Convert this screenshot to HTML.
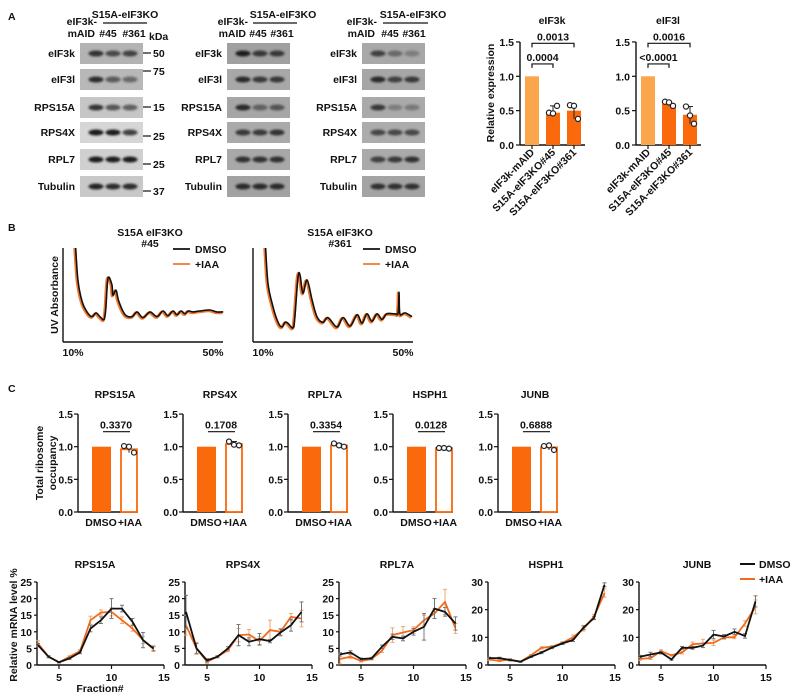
<!DOCTYPE html>
<html><head><meta charset="utf-8">
<style>
html,body{margin:0;padding:0;background:#fff;}
svg{display:block;}
text{font-family:"Liberation Sans",Arial,sans-serif;font-weight:bold;font-size:10.5px;fill:#111;}
</style></head>
<body>
<svg id="fig" width="793" height="697" viewBox="0 0 793 697" xmlns="http://www.w3.org/2000/svg">
<defs>
<filter id="blur" x="-50%" y="-100%" width="200%" height="300%"><feGaussianBlur stdDeviation="1.1"/></filter>
<clipPath id="clipB1"><rect x="60" y="248" width="170" height="96"/></clipPath>
<clipPath id="clipB2"><rect x="250" y="248" width="170" height="96"/></clipPath>
</defs>
</svg>
<script>
// ---------- Panel A blots ----------
const blotRows=['eIF3k','eIF3l','RPS15A','RPS4X','RPL7','Tubulin'];
const blotInt=[
 [[0.85,0.7,0.75],[0.9,0.6,0.5],[0.85,0.65,0.6],[1,1,0.8],[1,1,1],[0.95,0.9,0.9]],
 [[1,0.8,0.8],[0.9,0.8,0.8],[0.9,0.5,0.6],[0.8,0.8,0.85],[0.85,0.85,0.85],[0.9,0.9,0.9]],
 [[0.75,0.45,0.3],[0.9,0.75,0.8],[0.8,0.3,0.35],[0.7,0.7,0.7],[0.75,0.8,0.85],[0.85,0.85,0.85]]
];
const markers=['50','75','15','25','25','37'];
// ---------- Panel A bars ----------
const aCats=['eIF3k-mAID','S15A-eIF3KO#45','S15A-eIF3KO#361'];
const aKvals=[1,0.47,0.50];
const aKpts=[[],[0.47,0.46,0.57],[0.58,0.57,0.38]];
const aKp=['0.0004','0.0013'];
const aLvals=[1,0.60,0.44];
const aLpts=[[],[0.63,0.62,0.57],[0.56,0.43,0.31]];
const aLp=['<0.0001','0.0016'];
const aTicks=[0,0.5,1.0,1.5];
// ---------- Panel B profiles ----------
const b1x=[10.6,11.4,12.6,14,15.4,16.6,17.7,18.9,19.4,20,21.1,21.4,22.3,23.1,24.9,26.9,28.3,30,32,34,35.7,37.1,38.6,39.7,40.9,42,42.9,44.3,46.3,49.1,51.1,52.9];
const b1y=[110,66,43,32,27,31,27,24,37,68,61,50,55,43,29,27,32,26,32,27,33,28,33,29,33,30,33,32,33,34,32,32];
const b2x=[10.6,11.4,12.9,14.3,15.4,16.3,17.1,18.6,19.1,20,20.6,21.4,22.6,24,25.4,27.1,28.6,31.1,32.9,34.9,36.9,38.3,39.7,41.1,42.6,44,45.4,47.7,48.6,48.9,49.1,50.6,52.6];
const b2y=[110,63,37,21,16,21,20,15,27,69,71,52,66,45,27,21,26,16,26,17,29,20,30,22,30,24,30,30,31,53,30,31,27];
// ---------- Panel C bars ----------
const cGenes=['RPS15A','RPS4X','RPL7A','HSPH1','JUNB'];
const cIAA=[0.96,1.04,1.02,0.98,0.99];
const cPts=[[1.01,1.00,0.91],[1.08,1.03,1.02],[1.05,1.02,1.00],[0.98,0.98,0.97],[1.01,1.02,0.95]];
const cP=['0.3370','0.1708','0.3354','0.0128','0.6888'];
// ---------- Bottom line charts ----------
const fractions=[3,4,5,6,7,8,9,10,11,12,13,14];
const lineMax=[25,25,25,30,30];
const dmso=[
 [6,2.5,0.8,2,3.8,11,13.5,17,17,13,7.5,5],
 [16,5,1.4,2.5,5,9,7,7.8,7.2,9.8,12,16],
 [3.2,3.8,1.8,2,5.5,8.5,8,10,11.5,17,16,12.5],
 [2.5,2.5,1.8,1.2,3,4.5,6.3,7.8,9,13.5,17,29],
 [3,3.8,4.5,2,6.2,6.2,7,11,10.3,12,10.5,23]];
const dmsoErr=[
 [0.5,0.3,0.2,0.3,0.4,1,1,3,1,1,2.3,0.7],
 [5,1.5,0.5,0.3,0.5,3.2,1.2,1.7,0.5,1,1.8,3],
 [0.5,0.5,0.3,0.3,0.5,0.8,0.7,1,4,3,1.3,2],
 [0.3,0.3,0.3,0.2,0.3,0.4,0.4,0.4,0.5,0.7,0.6,0.7],
 [0.5,0.8,0.5,0.3,0.5,0.5,0.7,1.5,0.7,1,0.8,2]];
const iaa=[
 [6.5,2.5,0.8,2.5,4.2,13.5,15.8,16,13.5,11,7.5,4.8],
 [12,5,1,2.5,4.5,9,9.2,7.2,10.5,10,14.5,14],
 [1.8,2.5,1.2,1.8,4.3,9,9.8,10.5,13.5,15.5,19,11],
 [2,1.5,2,1.2,3.5,6.2,6.6,8,10,13,17.5,26],
 [2.2,2.5,5,3.5,4.5,7.5,7.8,8,10,10,15,21]];
const iaaErr=[
 [0.8,0.3,0.2,0.3,0.4,1.2,0.8,1.2,1,0.8,1,0.7],
 [3,1.8,0.5,0.3,0.5,2,1.5,1.3,3,1,1,2.5],
 [1.5,0.5,0.3,0.3,0.5,2.2,1.8,1,1.5,1.5,3.8,1.5],
 [0.3,0.3,0.3,0.2,0.3,0.4,0.4,0.4,0.8,0.7,0.8,1.5],
 [0.5,0.5,0.5,0.3,0.5,0.8,1.5,1,0.7,0.5,1,2.5]];

const NS='http://www.w3.org/2000/svg';
const svg=document.getElementById('fig');
function mk(tag,at,par){const e=document.createElementNS(NS,tag);for(const k in at)e.setAttribute(k,at[k]);(par||svg).appendChild(e);return e;}
function tx(x,y,s,at,par){const e=mk('text',Object.assign({x:x,y:y},at||{}),par);e.textContent=s;return e;}
function ln(x1,y1,x2,y2,c,w,par){return mk('line',{x1:x1,y1:y1,x2:x2,y2:y2,stroke:c||'#111','stroke-width':w||1.2},par);}
function smooth(P){let d='M'+P[0][0].toFixed(1)+','+P[0][1].toFixed(1);
 for(let i=0;i<P.length-1;i++){const p0=P[i-1]||P[i],p1=P[i],p2=P[i+1],p3=P[i+2]||p2;
  const c1=[p1[0]+(p2[0]-p0[0])/6,p1[1]+(p2[1]-p0[1])/6],c2=[p2[0]-(p3[0]-p1[0])/6,p2[1]-(p3[1]-p1[1])/6];
  d+='C'+c1[0].toFixed(1)+','+c1[1].toFixed(1)+' '+c2[0].toFixed(1)+','+c2[1].toFixed(1)+' '+p2[0].toFixed(1)+','+p2[1].toFixed(1);}
 return d;}

// panel letters
[['A',8,20],['B',8,231],['C',8,392]].forEach(p=>{
 const t=tx(p[1],p[2],p[0],{'font-size':'16px'});
 
 
});

// ----- blots -----
const blotX=[80,227,362], rowY=[43,69,97,122,149,176], lanes=[16,33,50];
const blotBg=[['#b3b3b3','#b8b8b8','#c6c6c6','#d6d6d6','#d0d0d0','#c8c8c8'],
 ['#a0a0a0','#a8a8a8','#a6a6a6','#aaaaaa','#a8a8a8','#a2a2a2'],
 ['#a8a8a8','#a6a6a6','#aaaaaa','#acacac','#aaaaaa','#a4a4a4']];
const hdr=[{e:97,s:125,u:[103,147],l45:108,l361:134},{e:248,s:283,u:[253,297],l45:258,l361:282},{e:377,s:413,u:[383,428],l45:390,l361:414}];
blotX.forEach((bx,b)=>{
 const g=mk('g',{});
 
 
 const h=hdr[b];
 tx(h.e,25,'eIF3k-',{'text-anchor':'end'},g);
 tx(h.e-2,37,'mAID',{'text-anchor':'end'},g);
 tx(h.s,18,'S15A-eIF3KO',{'text-anchor':'middle'},g);
 ln(h.u[0],23,h.u[1],23,'#111',1.2,g);
 tx(h.l45,37,'#45',{'text-anchor':'middle'},g);
 tx(h.l361,37,'#361',{'text-anchor':'middle'},g);
 blotRows.forEach((r,i)=>{
  const y=rowY[i];
  mk('rect',{x:bx,y:y,width:63,height:21,fill:blotBg[b][i]},g);
  lanes.forEach((lx,j)=>{
   mk('ellipse',{cx:bx+lx,cy:y+10.5,rx:7.5,ry:3,fill:'#1a1a1a',opacity:blotInt[b][i][j],filter:'url(#blur)'},g);
  });
  const lab=tx(bx-5,y+14,r,{'text-anchor':'end',fill:(i<2?'#e8894a':'#111')},g);
  
  
 });
});
tx(149,40,'kDa');
const mkY=[53,71,107,136,164,191];
markers.forEach((m,i)=>{ln(143,mkY[i],151,mkY[i]);tx(153,mkY[i]+4,m);});

// ----- A bar charts -----
function barA(ax,title,vals,pts,pv,nm){
 const g=mk('g',{});
 
 
 const y=v=>145-v*68.7;
 tx(ax+32,24,title,{'text-anchor':'middle'},g);
 ln(ax,y(1.5),ax,145,'#111',1.4,g); ln(ax,145,ax+65,145,'#111',1.4,g);
 aTicks.forEach(t=>{ln(ax-4,y(t),ax,y(t),'#111',1.2,g);tx(ax-6,y(t)+4,t.toFixed(1),{'text-anchor':'end','font-size':'11px'},g);});
 const cols=['#fba54c','#fa6a0c','#fa6a0c'];
 vals.forEach((v,i)=>{
  const cx=ax+12+i*21;
  const r=mk('rect',{x:cx-7,y:y(v),width:14,height:145-y(v),fill:cols[i]},g);
  
  
  ln(cx,145,cx,149,'#111',1.2,g);
  if(pts[i].length){
   const mx=Math.max(...pts[i]),mn=Math.min(...pts[i]);
   ln(cx,y(mn),cx,y(mx),'#222',1,g);ln(cx-3,y(mx),cx+3,y(mx),'#222',1,g);
   pts[i].forEach((p,k)=>mk('circle',{cx:cx-4+k*4,cy:y(p),r:2.6,fill:'#fff',stroke:'#222','stroke-width':1.2},g));
  }
  tx(cx+3,153,aCats[i],{'text-anchor':'end',transform:'rotate(-45 '+(cx+3)+' 153)','font-size':'10.5px'},g);
 });
 [[0,1,1.18,pv[0]],[0,2,1.48,pv[1]]].forEach(b=>{
  const x1=ax+12+b[0]*21,x2=ax+12+b[1]*21,yy=y(b[2]);
  mk('path',{d:'M'+x1+','+(yy+4)+'V'+yy+'H'+x2+'V'+(yy+4),fill:'none',stroke:'#111','stroke-width':1.2},g);
  tx((x1+x2)/2,yy-3,b[3],{'text-anchor':'middle','font-size':'9px'},g);
 });
}
barA(520,'eIF3k',aKvals,aKpts,aKp,'bar-chart-eif3k');
barA(636,'eIF3l',aLvals,aLpts,aLp,'bar-chart-eif3l');
tx(0,0,'Relative expression',{transform:'translate(494 93) rotate(-90)','text-anchor':'middle','font-size':'11px'});

// ----- Panel B -----
function prof(ax,x10,title2,xs_,ys_,clip,nm){
 const g=mk('g',{});
 
 
 const sx=v=>x10+(v-10)*3.5, sy=v=>342-v*0.94;
 tx(ax+87,236,'S15A eIF3KO',{'text-anchor':'middle'},g);
 tx(ax+87,247,title2,{'text-anchor':'middle'},g);
 ln(ax,248,ax,342,'#111',1.4,g);ln(ax,342,ax+160,342,'#111',1.4,g);
 tx(sx(10),356,'10%',{'text-anchor':'middle'},g);tx(sx(50),356,'50%',{'text-anchor':'middle'},g);
 const cg=mk('g',{'clip-path':'url(#'+clip+')'},g);
 const d=smooth(xs_.map((v,i)=>[sx(v),sy(ys_[i])]));
 const o=mk('path',{d:d,fill:'none',stroke:'#f07a30','stroke-width':3,transform:'translate(-0.8 0.8)'},cg);
 
 
 const k=mk('path',{d:d,fill:'none',stroke:'#111','stroke-width':1.6},cg);
 
 
 const lx=ax+110;
 ln(lx,249,lx+17,249,'#111',1.8,g);tx(lx+22,253,'DMSO',{'font-size':'11px'},g);
 ln(lx,264,lx+17,264,'#f07a30',1.8,g);tx(lx+22,268,'+IAA',{'font-size':'11px'},g);
}
prof(63,73,'#45',b1x,b1y,'clipB1','profile-chart-45');
prof(253,263,'#361',b2x,b2y,'clipB2','profile-chart-361');
tx(0,0,'UV Absorbance',{transform:'translate(58 295) rotate(-90)','text-anchor':'middle','font-size':'11px'});

// ----- Panel C -----
cGenes.forEach((gname,i)=>{
 const ax=78+i*105;
 const g=mk('g',{});
 
 
 const y=v=>512-v*65.3;
 tx(ax+37,398,gname,{'text-anchor':'middle','font-size':'11px'},g);
 ln(ax,y(1.5),ax,512,'#111',1.4,g);ln(ax,512,ax+60,512,'#111',1.4,g);
 aTicks.forEach(t=>{ln(ax-4,y(t),ax,y(t),'#111',1.2,g);tx(ax-5,y(t)+4,t.toFixed(1),{'text-anchor':'end','font-size':'11px'},g);});
 const b1=mk('rect',{x:ax+14,y:y(1),width:19,height:512-y(1),fill:'#fa6a0c'},g);
 
 
 const b2=mk('rect',{x:ax+43,y:y(cIAA[i]),width:16,height:512-y(cIAA[i]),fill:'#fff',stroke:'#fa6a0c','stroke-width':1.8},g);
 
 
 const mx=Math.max(...cPts[i]),mn=Math.min(...cPts[i]);
 ln(ax+51,y(mn),ax+51,y(mx),'#222',1,g);ln(ax+48,y(mx),ax+54,y(mx),'#222',1,g);
 cPts[i].forEach((p,k)=>mk('circle',{cx:ax+46+k*5,cy:y(p),r:2.5,fill:'#fff',stroke:'#222','stroke-width':1.2},g));
 tx(ax+23,526,'DMSO',{'text-anchor':'middle'},g);tx(ax+52,526,'+IAA',{'text-anchor':'middle'},g);
 ln(ax+25,y(1.23),ax+52,y(1.23),'#111',1.2,g);
 tx(ax+38,y(1.23)-3,cP[i],{'text-anchor':'middle','font-size':'9px'},g);
});
tx(0,0,'Total ribosome',{transform:'translate(43 463) rotate(-90)','text-anchor':'middle','font-size':'11.5px'});
tx(0,0,'occupancy',{transform:'translate(56 463) rotate(-90)','text-anchor':'middle','font-size':'11.5px'});

// ----- Bottom line charts -----
const lAx=[37,185,339,488,639];
cGenes.forEach((gname,i)=>{
 const ax=lAx[i],mx=lineMax[i];
 const g=mk('g',{});
 
 
 const sx=v=>ax+1+(v-3)*10.5, sy=v=>665-v/mx*83;
 tx(ax+58,568,gname,{'text-anchor':'middle'},g);
 ln(ax,582,ax,665,'#111',1.4,g);ln(ax,665,ax+127,665,'#111',1.4,g);
 const step=mx===25?5:10;
 for(let t=0;t<=mx;t+=step){ln(ax-3,sy(t),ax,sy(t),'#111',1.2,g);tx(ax-5,sy(t)+4,String(t),{'text-anchor':'end','font-size':'10.5px'},g);}
 [5,10,15].forEach(t=>{ln(sx(t),665,sx(t),669,'#111',1.2,g);tx(sx(t),681,String(t),{'text-anchor':'middle','font-size':'10.5px'},g);});
 [[iaa[i],iaaErr[i],'#f26b1d','#f5a76c','series-iaa'],[dmso[i],dmsoErr[i],'#111','#777','series-dmso']].forEach(s=>{
  const eg=mk('g',{},g);
  fractions.forEach((f,k)=>{
   const x=sx(f),y1=sy(s[0][k]+s[1][k]),y2=sy(Math.max(0,s[0][k]-s[1][k]));
   ln(x,y1,x,y2,s[3],1,eg);ln(x-2,y1,x+2,y1,s[3],1,eg);ln(x-2,y2,x+2,y2,s[3],1,eg);
  });
  const d=fractions.map((f,k)=>(k?'L':'M')+sx(f).toFixed(1)+','+sy(s[0][k]).toFixed(1)).join('');
  const p=mk('path',{d:d,fill:'none',stroke:s[2],'stroke-width':1.8},g);
  
  
 });
});
tx(0,0,'Relative mRNA level %',{transform:'translate(17 625) rotate(-90)','text-anchor':'middle','font-size':'10.5px'});
tx(100,692,'Fraction#',{'text-anchor':'middle','font-size':'10.5px'});
const lg=mk('g',{});


ln(740,564,755,564,'#111',2,lg);tx(759,568,'DMSO',{'font-size':'12px'},lg);
ln(740,579,755,579,'#f26b1d',2,lg);tx(759,583,'+IAA',{'font-size':'12px'},lg);
</script>
</body></html>
